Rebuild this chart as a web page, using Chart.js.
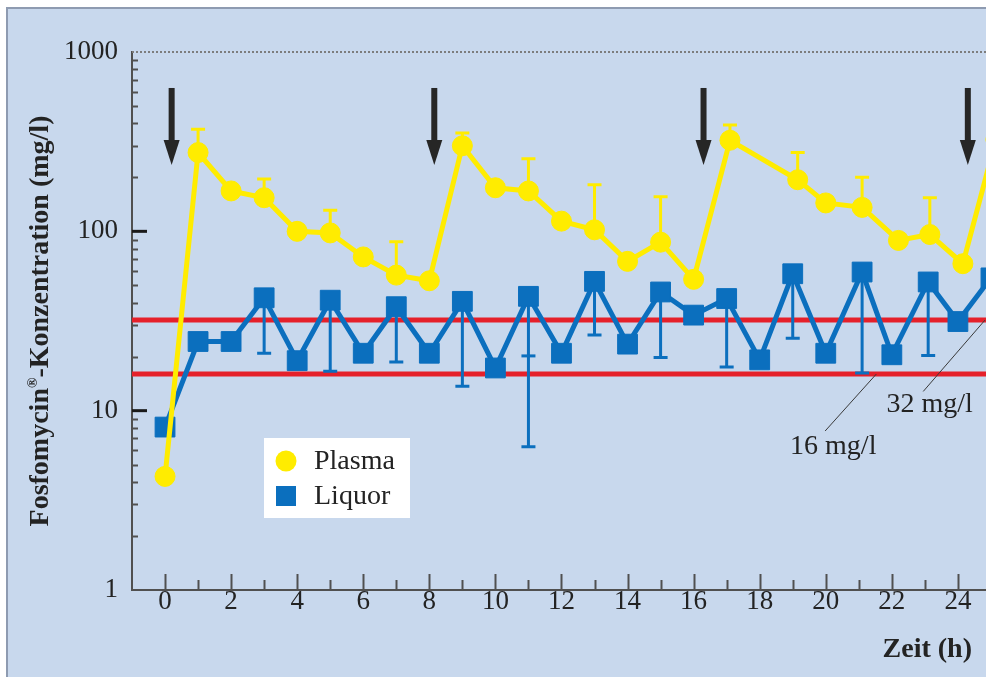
<!DOCTYPE html>
<html>
<head>
<meta charset="utf-8">
<script src="https://cdn.jsdelivr.net/npm/chart.js@4/dist/chart.umd.min.js"></script>
<style>
  html, body { margin: 0; padding: 0; background: #ffffff; overflow: hidden; }
  #wrap { width: 986px; height: 677px; position: relative; }
</style>
</head>
<body>
<div id="wrap"><canvas id="c" width="986" height="677"></canvas></div>
<script>
// Fosfomycin concentrations (mg/l) over time (h), three 8-hourly doses
const plasmaTime   = [0, 1, 2, 3, 4, 5, 6, 7, 8, 9, 10, 11, 12, 13, 14, 15, 16, 17.1, 19.15, 20, 21.1, 22.2, 23.15, 24.15, 25.15];
const plasmaConc   = [4.3, 275, 168, 154, 100, 98, 72, 57, 53, 300, 175, 168, 114, 102, 68, 87, 54, 322, 194, 144, 136, 89, 96, 66, 325];
const plasmaSdHigh = [null, 371, null, 196, null, 131, null, 87.5, null, 353, null, 254, null, 182, null, 156, null, 392, 275, null, 200, null, 154, null, null];

const liquorTime   = [0, 1, 2, 3, 4, 5, 6, 7, 8, 9, 10, 11, 12, 13, 14, 15, 16, 17, 18, 19, 20, 21.1, 22, 23.1, 24, 25];
const liquorConc   = [8.1, 24.3, 24.3, 42.6, 19.0, 41.3, 20.9, 38.0, 20.9, 40.7, 17.3, 43.4, 20.9, 52.6, 23.5, 45.9, 34.1, 42.2, 19.2, 58.0, 20.9, 59.3, 20.5, 52.2, 31.4, 55];
const liquorSdLow  = [null, null, null, 20.9, null, 16.6, null, 18.7, null, 13.7, null, 6.3, null, 26.4, null, 19.8, null, 17.5, null, 25.3, null, 16.2, null, 20.3, null, null];
const liquorSdMark = [null, null, null, null, null, null, null, null, null, null, null, 20.2, null, null, null, null, null, null, null, null, null, null, null, null, null, null];

const doseTimes  = [0.2, 8.15, 16.3, 24.3];
const micLevels  = [16, 32];
const micLabels  = ['16 mg/l', '32 mg/l'];

const timeTicks  = [0, 2, 4, 6, 8, 10, 12, 14, 16, 18, 20, 22, 24];
const concTicks  = [1, 10, 100, 1000];

const COLORS = {
  panel: '#c8d8ed',
  frame: '#8e9bb1',
  plasma: '#ffec00',
  liquor: '#0b6fbe',
  mic: '#e5202a',
  ink: '#232323',
  axis: '#505050'
};
const SERIF = '"Liberation Serif", "DejaVu Serif", serif';

// Annotation placement (in axis units) for the arrows and the MIC leaders
const arrowSpan = { from: 630, to: 234 };
const micNotes = [
  { leaderFrom: [19.98, 7.7], leaderTo: 21.53, text: [18.92, 5.7] },
  { leaderFrom: [22.95, 12.8], leaderTo: 24.82, text: [21.84, 9.8] }
];

function whisker(ctx, x, y0, y1, color) {
  ctx.save();
  ctx.strokeStyle = color;
  ctx.lineWidth = 3;
  ctx.beginPath();
  ctx.moveTo(x, y0);
  ctx.lineTo(x, y1);
  ctx.moveTo(x - 7, y1);
  ctx.lineTo(x + 7, y1);
  ctx.stroke();
  ctx.restore();
}

const panelPlugin = {
  id: 'panel',
  beforeDraw(chart) {
    const { ctx, width, height } = chart;
    ctx.save();
    ctx.fillStyle = '#ffffff';
    ctx.fillRect(0, 0, width, height);
    ctx.fillStyle = COLORS.panel;
    ctx.fillRect(7, 8, width - 7, height - 8);
    ctx.strokeStyle = COLORS.frame;
    ctx.lineWidth = 2;
    ctx.beginPath();
    ctx.moveTo(7, height);
    ctx.lineTo(7, 8);
    ctx.lineTo(width, 8);
    ctx.stroke();
    ctx.restore();
  }
};

const underlayPlugin = {
  id: 'underlay',
  beforeDatasetsDraw(chart) {
    const { ctx, chartArea: a, scales: { x: xs, y: ys } } = chart;
    ctx.save();

    // dotted upper frame
    ctx.strokeStyle = '#7d7d7d';
    ctx.lineWidth = 2;
    ctx.setLineDash([2, 2]);
    ctx.beginPath();
    ctx.moveTo(a.left, a.top);
    ctx.lineTo(a.right, a.top);
    ctx.stroke();
    ctx.setLineDash([]);

    // inward tick marks on the time axis
    ctx.strokeStyle = COLORS.axis;
    ctx.lineWidth = 2;
    for (let t = 0; t <= 24; t++) {
      const x = Math.round(xs.getPixelForValue(t)) + 0.5;
      const len = t % 2 === 0 ? 16 : 10;
      ctx.beginPath();
      ctx.moveTo(x, a.bottom);
      ctx.lineTo(x, a.bottom - len);
      ctx.stroke();
    }
    // inward tick marks on the concentration axis
    for (const d of [1, 10, 100]) {
      for (let k = 2; k <= 9; k++) {
        const y = Math.round(ys.getPixelForValue(k * d)) + 0.5;
        ctx.beginPath();
        ctx.moveTo(a.left, y);
        ctx.lineTo(a.left + 6, y);
        ctx.stroke();
      }
    }
    ctx.strokeStyle = '#1a1a1a';
    ctx.lineWidth = 3;
    for (const v of concTicks.slice(1, -1)) {
      const y = ys.getPixelForValue(v);
      ctx.beginPath();
      ctx.moveTo(a.left, y);
      ctx.lineTo(a.left + 15, y);
      ctx.stroke();
    }

    // MIC reference lines
    ctx.strokeStyle = COLORS.mic;
    ctx.lineWidth = 5;
    for (const v of micLevels) {
      const y = ys.getPixelForValue(v);
      ctx.beginPath();
      ctx.moveTo(a.left, y);
      ctx.lineTo(a.right, y);
      ctx.stroke();
    }
    ctx.restore();

    // error bars
    ctx.save();
    ctx.beginPath();
    ctx.rect(a.left, a.top, a.right - a.left, a.bottom - a.top);
    ctx.clip();
    plasmaTime.forEach((t, i) => {
      if (plasmaSdHigh[i] == null) return;
      whisker(ctx, xs.getPixelForValue(t), ys.getPixelForValue(plasmaConc[i]), ys.getPixelForValue(plasmaSdHigh[i]), COLORS.plasma);
    });
    liquorTime.forEach((t, i) => {
      const x = xs.getPixelForValue(t);
      if (liquorSdLow[i] != null) {
        whisker(ctx, x, ys.getPixelForValue(liquorConc[i]), ys.getPixelForValue(liquorSdLow[i]), COLORS.liquor);
      }
      if (liquorSdMark[i] != null) {
        const y = ys.getPixelForValue(liquorSdMark[i]);
        whisker(ctx, x, y, y, COLORS.liquor);
      }
    });
    ctx.restore();
  }
};

const overlayPlugin = {
  id: 'overlay',
  afterDatasetsDraw(chart) {
    const { ctx, chartArea: a, scales: { x: xs, y: ys } } = chart;
    ctx.save();

    // dosing arrows
    ctx.fillStyle = '#262626';
    for (const t of doseTimes) {
      const x = xs.getPixelForValue(t);
      const y0 = ys.getPixelForValue(arrowSpan.from);
      const y1 = ys.getPixelForValue(arrowSpan.to);
      ctx.fillRect(x - 3, y0, 6, y1 - y0 - 20);
      ctx.beginPath();
      ctx.moveTo(x - 8, y1 - 25);
      ctx.lineTo(x + 8, y1 - 25);
      ctx.lineTo(x, y1);
      ctx.closePath();
      ctx.fill();
    }

    // MIC leaders and labels
    ctx.strokeStyle = '#3a3a3a';
    ctx.lineWidth = 1;
    ctx.fillStyle = COLORS.ink;
    ctx.font = '28px ' + SERIF;
    ctx.textAlign = 'left';
    ctx.textBaseline = 'alphabetic';
    micNotes.forEach((n, i) => {
      ctx.beginPath();
      ctx.moveTo(xs.getPixelForValue(n.leaderFrom[0]), ys.getPixelForValue(n.leaderFrom[1]));
      ctx.lineTo(xs.getPixelForValue(n.leaderTo), ys.getPixelForValue(micLevels[i]));
      ctx.stroke();
      ctx.fillText(micLabels[i], xs.getPixelForValue(n.text[0]), ys.getPixelForValue(n.text[1]));
    });

    // legend
    const lx = a.left + 132, ly = a.top + 386;
    ctx.fillStyle = '#ffffff';
    ctx.fillRect(lx, ly, 146, 80);
    ctx.fillStyle = COLORS.plasma;
    ctx.beginPath();
    ctx.arc(lx + 22, ly + 23, 10.5, 0, Math.PI * 2);
    ctx.fill();
    ctx.fillStyle = COLORS.liquor;
    ctx.fillRect(lx + 12, ly + 48, 20, 20);
    ctx.fillStyle = COLORS.ink;
    ctx.textBaseline = 'middle';
    ctx.fillText(chart.data.datasets[0].label, lx + 50, ly + 24);
    ctx.fillText(chart.data.datasets[1].label, lx + 50, ly + 59);

    // axis titles
    ctx.textBaseline = 'alphabetic';
    ctx.textAlign = 'right';
    ctx.font = 'bold 28px ' + SERIF;
    ctx.fillText('Zeit (h)', 972, 657);

    const parts = [
      ['Fosfomycin', 'bold 28px ' + SERIF, 0],
      ['\u00AE', 'bold 14px ' + SERIF, -11],
      ['-Konzentration (mg/l)', 'bold 28px ' + SERIF, 0]
    ];
    let total = 0;
    const widths = parts.map(([s, f]) => { ctx.font = f; const w = ctx.measureText(s).width; total += w; return w; });
    ctx.translate(48, (a.top + a.bottom) / 2);
    ctx.rotate(-Math.PI / 2);
    ctx.textAlign = 'left';
    let px = -total / 2;
    parts.forEach(([s, f, dy], i) => {
      ctx.font = f;
      ctx.fillText(s, px, dy);
      px += widths[i];
    });
    ctx.restore();
  }
};

new Chart(document.getElementById('c'), {
  type: 'line',
  data: {
    datasets: [
      {
        label: 'Plasma',
        data: plasmaTime.map((t, i) => ({ x: t, y: plasmaConc[i] })),
        borderColor: COLORS.plasma,
        backgroundColor: COLORS.plasma,
        borderWidth: 5,
        pointStyle: 'circle',
        pointRadius: 10,
        pointBorderWidth: 1,
        tension: 0
      },
      {
        label: 'Liquor',
        data: liquorTime.map((t, i) => ({ x: t, y: liquorConc[i] })),
        borderColor: COLORS.liquor,
        backgroundColor: COLORS.liquor,
        borderWidth: 5,
        pointStyle: 'rect',
        pointRadius: 14,
        pointBorderWidth: 1,
        tension: 0
      }
    ]
  },
  options: {
    responsive: false,
    devicePixelRatio: 1,
    animation: false,
    events: [],
    layout: { autoPadding: false, padding: { top: 52, left: 0, right: 0, bottom: 0 } },
    plugins: { legend: { display: false }, tooltip: { enabled: false } },
    scales: {
      x: {
        type: 'linear',
        min: -1,
        max: 24.85,
        afterBuildTicks: s => { s.ticks = timeTicks.map(v => ({ value: v })); },
        afterFit: s => { s.height = 87; s.paddingLeft = 0; s.paddingRight = 0; },
        grid: { display: false, drawTicks: false },
        border: { display: true, color: COLORS.axis, width: 2 },
        ticks: {
          autoSkip: false,
          maxRotation: 0,
          padding: -4,
          color: COLORS.ink,
          font: { family: SERIF, size: 27 },
          callback: v => String(v)
        }
      },
      y: {
        type: 'logarithmic',
        min: 1,
        max: 1000,
        afterBuildTicks: s => { s.ticks = concTicks.map(v => ({ value: v })); },
        afterFit: s => { s.width = 132; s.paddingTop = 0; s.paddingBottom = 0; },
        grid: { display: false, drawTicks: false },
        border: { display: true, color: COLORS.axis, width: 2 },
        ticks: {
          padding: 14,
          color: COLORS.ink,
          font: { family: SERIF, size: 27 },
          callback: v => String(v)
        }
      }
    }
  },
  plugins: [panelPlugin, underlayPlugin, overlayPlugin]
});
</script>
</body>
</html>
